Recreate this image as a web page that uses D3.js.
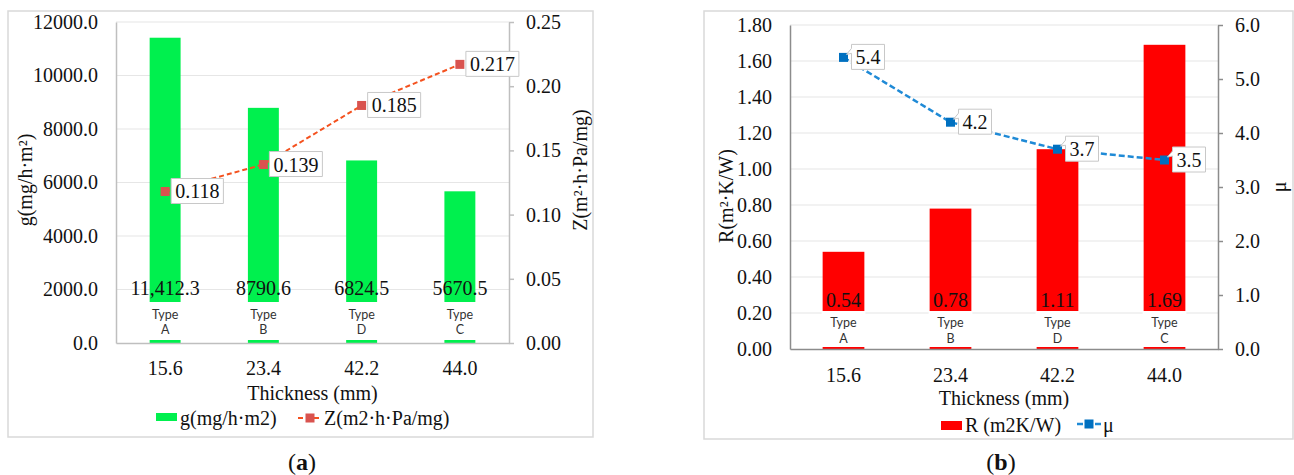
<!DOCTYPE html>
<html><head><meta charset="utf-8">
<script src="https://cdn.jsdelivr.net/npm/d3@7"></script>
<style>
body{margin:0;background:#fff} svg{display:block}
svg text{font-family:"Liberation Serif","Times New Roman",serif}
svg text.sans{font-family:Lato,"Open Sans",sans-serif}
</style>
</head><body><svg id="c" width="1294" height="475"></svg>
<script>
// ---- data ----
const thickness = ["15.6", "23.4", "42.2", "44.0"];
const typeLetters = ["A", "B", "D", "C"];
const gValues = [11412.3, 8790.6, 6824.5, 5670.5];
const gLabels = ["11,412.3", "8790.6", "6824.5", "5670.5"];
const zValues = [0.118, 0.139, 0.185, 0.217];
const rValues = [0.54, 0.78, 1.11, 1.69];
const muValues = [5.4, 4.2, 3.7, 3.5];
const gTicks = [0, 2000, 4000, 6000, 8000, 10000, 12000];
const zTicks = [0, 0.05, 0.10, 0.15, 0.20, 0.25];
const rTicks = [0, 0.2, 0.4, 0.6, 0.8, 1.0, 1.2, 1.4, 1.6, 1.8];
const muTicks = [0, 1, 2, 3, 4, 5, 6];

const svg = d3.select("#c");

function panel(cfg) {
  const g = svg.append("g");
  g.append("rect").attr("x", cfg.frame[0]).attr("y", cfg.frame[1])
    .attr("width", cfg.frame[2]).attr("height", cfg.frame[3])
    .attr("fill", "#fff").attr("stroke", "#d9d9d9").attr("stroke-width", 1.5);

  const p = cfg.plot;
  const x = d3.scaleBand().domain(thickness).range([p.l, p.r])
    .paddingInner(cfg.pad).paddingOuter(cfg.pad / 2);
  const yL = d3.scaleLinear().domain([cfg.leftTicks[0], cfg.leftTicks[cfg.leftTicks.length - 1]]).range([p.b, p.t]);
  const yR = d3.scaleLinear().domain([cfg.rightTicks[0], cfg.rightTicks[cfg.rightTicks.length - 1]]).range([p.b, p.t]);
  const cx = d => x(d) + x.bandwidth() / 2;

  // gridlines
  g.append("g").selectAll("line").data(cfg.leftTicks.slice(1)).join("line")
    .attr("x1", p.l).attr("x2", p.r).attr("y1", d => yL(d)).attr("y2", d => yL(d))
    .attr("stroke", "#e6e6e6").attr("stroke-width", 1.2);

  // bars
  g.append("g").selectAll("rect").data(cfg.bars).join("rect")
    .attr("x", (d, i) => x(thickness[i])).attr("width", x.bandwidth())
    .attr("y", d => yL(d)).attr("height", d => p.b - yL(d))
    .attr("fill", cfg.barColor);

  // type label boxes (white) covering bar base
  g.append("g").selectAll("rect").data(thickness).join("rect")
    .attr("x", d => x(d) - 1).attr("width", x.bandwidth() + 2)
    .attr("y", p.b - cfg.typeBox[0]).attr("height", cfg.typeBox[0] - cfg.typeBox[1])
    .attr("fill", "#fff");
  const tl = g.append("g").attr("font-size", 12.5)
    .attr("fill", "#333").attr("text-anchor", "middle");
  tl.selectAll("text.t1").data(thickness).join("text").attr("class", "t1 sans")
    .attr("x", d => cx(d)).attr("y", p.b - cfg.typeText[0]).text("Type");
  tl.selectAll("text.t2").data(typeLetters).join("text").attr("class", "t2 sans")
    .attr("x", (d, i) => cx(thickness[i])).attr("y", p.b - cfg.typeText[1]).text(d => d);

  // value labels
  g.append("g").selectAll("text").data(cfg.barLabels).join("text")
    .attr("x", (d, i) => cx(thickness[i])).attr("y", p.b - cfg.valBase)
    .attr("text-anchor", "middle").attr("font-size", 20)
    .attr("fill", "#111").text(d => d);

  // axes
  const axL = g.append("g").attr("transform", `translate(${p.l},0)`)
    .call(d3.axisLeft(yL).tickValues(cfg.leftTicks).tickFormat(d3.format(cfg.leftFmt))
      .tickSize(0).tickSizeOuter(0).tickPadding(18));
  const axR = g.append("g").attr("transform", `translate(${p.r},0)`)
    .call(d3.axisRight(yR).tickValues(cfg.rightTicks).tickFormat(d3.format(cfg.rightFmt))
      .tickSize(5).tickSizeOuter(0).tickPadding(12));
  const axB = g.append("g").attr("transform", `translate(0,${p.b})`)
    .call(d3.axisBottom(x).tickSize(0).tickSizeOuter(0));
  axB.selectAll("text").attr("dy", null).attr("y", cfg.xTickBase);
  [axL, axR, axB].forEach(a => {
    a.attr("font-family", null).attr("font-size", 20);
    a.selectAll("text").attr("fill", "#111");
    a.select(".domain").attr("stroke", cfg.axisColor).attr("stroke-width", 1.5);
    a.selectAll(".tick line").attr("stroke", cfg.axisColor).attr("stroke-width", 1.5);
  });

  // axis titles
  g.append("text").attr("transform", `translate(${cfg.lTitle[0]},${cfg.lTitle[1]}) rotate(-90)`)
    .attr("text-anchor", "middle").attr("dy", "0.35em").attr("font-size", 20)
    .attr("fill", "#111").text(cfg.lTitleText);
  g.append("text").attr("transform", `translate(${cfg.rTitle[0]},${cfg.rTitle[1]}) rotate(-90)`)
    .attr("text-anchor", "middle").attr("dy", "0.35em").attr("font-size", 20)
    .attr("fill", "#111").text(cfg.rTitleText);
  g.append("text").attr("x", (p.l + p.r) / 2).attr("y", p.b + cfg.xTitleBase)
    .attr("text-anchor", "middle").attr("font-size", 20)
    .attr("fill", "#111").text("Thickness (mm)");

  // line
  const line = d3.line().x((d, i) => cx(thickness[i])).y(d => yR(d));
  g.append("path").datum(cfg.line).attr("d", line).attr("fill", "none")
    .attr("stroke", cfg.lineColor).attr("stroke-width", cfg.lineWidth)
    .attr("stroke-dasharray", cfg.dash);
  const ms = cfg.markerSize;
  g.append("g").selectAll("rect").data(cfg.line).join("rect")
    .attr("x", (d, i) => cx(thickness[i]) - ms / 2).attr("y", d => yR(d) - ms / 2)
    .attr("width", ms).attr("height", ms).attr("fill", cfg.markerColor);

  // line labels with boxes
  const lf = d3.format(cfg.lineFmt);
  cfg.line.forEach((v, i) => {
    const mx = cx(thickness[i]), my = yR(v);
    const lg = g.append("g");
    const box = lg.append("path");
    const t = lg.append("text").attr("font-size", 20)
      .attr("fill", "#111").text(lf(v));
    const tw = t.node().getComputedTextLength();
    const bx = mx + cfg.boxOff, by = my - 13, bw = tw + 8, bh = 25;
    t.attr("x", bx + 4).attr("y", my + 7);
    let dpath;
    if (cfg.callout) {
      dpath = `M${bx},${by} H${bx + bw} V${by + bh} H${bx} V${by + 9} L${mx + 3},${my - 3} L${bx},${by + 4} Z`;
    } else {
      dpath = `M${bx},${by} H${bx + bw} V${by + bh} H${bx} Z`;
    }
    box.attr("d", dpath).attr("fill", "#fff").attr("stroke", "#c8c8c8").attr("stroke-width", 1);
  });

  // legend
  const L = cfg.legend;
  g.append("rect").attr("x", L.rect[0]).attr("y", L.rect[1]).attr("width", 21).attr("height", L.rect[2])
    .attr("fill", cfg.barColor);
  g.append("text").attr("x", L.t1).attr("y", L.base).attr("font-size", 20)
    .attr("fill", "#111").text(cfg.legend1);
  g.append("line").attr("x1", L.sym[0]).attr("x2", L.sym[1]).attr("y1", L.symY).attr("y2", L.symY)
    .attr("stroke", cfg.lineColor).attr("stroke-width", cfg.lineWidth).attr("stroke-dasharray", cfg.dash);
  const lmx = (L.sym[0] + L.sym[1]) / 2;
  g.append("rect").attr("x", lmx - ms / 2).attr("y", L.symY - ms / 2).attr("width", ms).attr("height", ms)
    .attr("fill", cfg.markerColor);
  g.append("text").attr("x", L.t2).attr("y", L.base).attr("font-size", 20)
    .attr("fill", "#111").text(cfg.legend2);

  // caption
  const cap = g.append("text").attr("x", cfg.caption[0]).attr("y", cfg.caption[1])
    .attr("text-anchor", "middle").attr("font-size", 24).attr("fill", "#111");
  cap.append("tspan").text("(");
  cap.append("tspan").attr("font-weight", "bold").text(cfg.captionLetter);
  cap.append("tspan").text(")");
}

panel({
  frame: [8, 11, 585, 426],
  plot: { l: 116, r: 509, t: 22, b: 343 },
  pad: 0.685,
  leftTicks: gTicks, rightTicks: zTicks, leftFmt: ".1f", rightFmt: ".2f",
  bars: gValues, barLabels: gLabels, barColor: "#00f04e",
  typeBox: [41, 3], typeText: [24, 9], valBase: 48, xTickBase: 32, xTitleBase: 57,
  axisColor: "#bfbfbf",
  lTitle: [25, 180], lTitleText: "g(mg/h·m²)",
  rTitle: [580, 170], rTitleText: "Z(m²·h·Pa/mg)",
  line: zValues, lineFmt: ".3f", lineColor: "#f4511e", lineWidth: 2, dash: "5,3",
  markerColor: "#d9534f", markerSize: 9, boxOff: 6, callout: false,
  legend: { rect: [156, 413, 8], t1: 180, sym: [298, 322], symY: 418, t2: 324, base: 425 },
  legend1: "g(mg/h·m2)", legend2: "Z(m2·h·Pa/mg)",
  caption: [302, 470], captionLetter: "a"
});

panel({
  frame: [704, 11, 589, 428],
  plot: { l: 790, r: 1218, t: 25, b: 349 },
  pad: 0.61,
  leftTicks: rTicks, rightTicks: muTicks, leftFmt: ".2f", rightFmt: ".1f",
  bars: rValues, barLabels: rValues.map(d3.format(".2f")), barColor: "#ff0000",
  typeBox: [38, 2], typeText: [22, 6], valBase: 42, xTickBase: 33, xTitleBase: 56,
  axisColor: "#8c8c8c",
  lTitle: [726, 196], lTitleText: "R(m²·K/W)",
  rTitle: [1279, 187], rTitleText: "μ",
  line: muValues, lineFmt: ".1f", lineColor: "#1f8ad6", lineWidth: 2.5, dash: "6,3",
  markerColor: "#0070c0", markerSize: 9, boxOff: 8, callout: true,
  legend: { rect: [941, 421, 9], t1: 965, sym: [1077, 1101], symY: 424, t2: 1103, base: 432 },
  legend1: "R (m2K/W)", legend2: "μ",
  caption: [1001, 470], captionLetter: "b"
});
</script></body></html>
